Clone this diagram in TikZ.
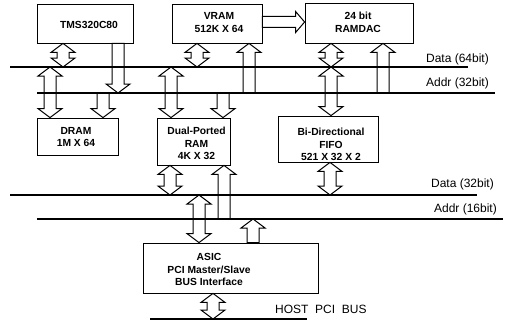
\documentclass[tikz,border=0pt]{standalone}
\usepackage{fontspec}
\setmainfont{Liberation Sans}
\usetikzlibrary{calc}

\begin{document}
\begin{tikzpicture}[x=1pt, y=-1pt,
    box/.style={draw, line width=0.8pt, inner sep=0pt},
    boxtext/.style={align=center, inner sep=0pt, font=\bfseries\fontsize{10.3}{12.6}\selectfont},
    buslabel/.style={anchor=base east, inner sep=0pt, font=\fontsize{12}{14}\selectfont},
    bus/.style={line width=2.8pt},
    % hollow block arrow, heads at both ends (vertical)
    dblarr/.style={line width=1pt, to path={
        let \p1=(\tikztostart), \p2=(\tikztotarget), \n1={sign(\y2-\y1)} in
        -- ({\x1+12pt},{\y1+9pt*\n1}) -- ({\x1+6pt},{\y1+9pt*\n1})
        -- ({\x1+6pt},{\y2-9pt*\n1}) -- ({\x1+12pt},{\y2-9pt*\n1})
        -- (\x1,\y2)
        -- ({\x1-12pt},{\y2-9pt*\n1}) -- ({\x1-6pt},{\y2-9pt*\n1})
        -- ({\x1-6pt},{\y1+9pt*\n1}) -- ({\x1-12pt},{\y1+9pt*\n1})
        -- cycle}},
    % hollow block arrow, head at the target only (vertical)
    sglarr/.style={line width=1pt, to path={
        let \p1=(\tikztostart), \p2=(\tikztotarget), \n1={sign(\y2-\y1)} in
        -- ({\x1+6pt},\y1)
        -- ({\x1+6pt},{\y2-9pt*\n1}) -- ({\x1+12pt},{\y2-9pt*\n1})
        -- (\x1,\y2)
        -- ({\x1-12pt},{\y2-9pt*\n1}) -- ({\x1-6pt},{\y2-9pt*\n1})
        -- ({\x1-6pt},\y1)
        -- cycle}},
    % same, horizontal
    sglarrh/.style={line width=1pt, to path={
        let \p1=(\tikztostart), \p2=(\tikztotarget), \n1={sign(\x2-\x1)} in
        -- (\x1,{\y1+5.5pt})
        -- ({\x2-9pt*\n1},{\y1+5.5pt}) -- ({\x2-9pt*\n1},{\y1+10.5pt})
        -- (\x2,\y1)
        -- ({\x2-9pt*\n1},{\y1-10.5pt}) -- ({\x2-9pt*\n1},{\y1-5.5pt})
        -- (\x1,{\y1-5.5pt})
        -- cycle}}]
    \useasboundingbox (0,0) rectangle (510,321);

    % Boxes
    \node[box, minimum width=96pt, minimum height=39pt] (tms) at (85,23.5) {};
    \node[boxtext] (tmstxt) at (89,25) {TMS320C80};
    \node[box, minimum width=90pt, minimum height=39pt] (vram) at (217,23.5) {};
    \node[boxtext] (vramtxt) at (219,22.5) {VRAM\\512K X 64};
    \node[box, minimum width=108pt, minimum height=40pt] (dac) at (359,23) {};
    \node[boxtext] (dactxt) at (358,22.5) {24 bit\\RAMDAC};
    \node[box, minimum width=81pt, minimum height=37pt] (dram) at (77.5,136.5) {};
    \node[boxtext] (dramtxt) at (76,137) {DRAM\\1M X 64};
    \node[box, minimum width=73pt, minimum height=47pt] (dpram) at (193.5,141.5) {};
    \node[boxtext] (dpramtxt) at (196.5,143.5) {Dual-Ported\\RAM\\4K X 32};
    \node[box, minimum width=100pt, minimum height=46pt] (fifo) at (328,139) {};
    \node[boxtext] (fifotxt) at (331,144.5) {Bi-Directional\\FIFO\\521 X 32 X 2};
    \node[box, minimum width=175pt, minimum height=50pt] (asic) at (230.5,268) {};
    \node[boxtext] (asictxt) at (209,269.5) {ASIC\\PCI Master/Slave\\BUS Interface};

    % Buses
    \coordinate (d64w) at (10,67);   \coordinate (d64e) at (468,67);
    \coordinate (a32w) at (37,93);   \coordinate (a32e) at (495,93);
    \coordinate (d32w) at (10,195);  \coordinate (d32e) at (477,195);
    \coordinate (a16w) at (37,219);  \coordinate (a16e) at (503,219);
    \coordinate (pciw) at (150,319); \coordinate (pcie) at (307,319);
    \draw[bus] (d64w) -- (d64e);
    \draw[bus] (a32w) -- (a32e);
    \draw[bus] (d32w) -- (d32e);
    \draw[bus] (a16w) -- (a16e);
    \draw[bus] (pciw) -- (pcie);
    \node[buslabel] (d64lbl) at (489,63) {Data (64bit)};
    \node[buslabel] (a32lbl) at (489,86) {Addr (32bit)};
    \node[buslabel] (d32lbl) at (494,187.5) {Data (32bit)};
    \node[buslabel] (a16lbl) at (497,212) {Addr (16bit)};
    \node[anchor=base west, inner sep=0pt, font=\fontsize{12}{14}\selectfont] (pcilbl) at (275,313) {HOST\ \ PCI\ \ BUS};

    % Upper bus arrows
    \draw[dblarr] (63,0 |- tms.south) to (63,0 |- d64w);
    \draw[sglarr] (118,0 |- tms.south) to (118,0 |- a32w);
    \draw[dblarr] (50,0 |- d64w) to (50,0 |- dram.north);
    \draw[sglarr] (103,0 |- a32w) to (103,0 |- dram.north);
    \draw[dblarr] (197,0 |- vram.south) to (197,0 |- d64w);
    \draw[sglarr] (249,0 |- a32w) to (249,0 |- vram.south);
    \draw[dblarr] (171,0 |- d64w) to (171,0 |- dpram.north);
    \draw[sglarr] (223,0 |- a32w) to (223,0 |- dpram.north);
    \draw[sglarrh] (vram.east |- 0,22) to (dac.west |- 0,22);
    \draw[dblarr] (331,0 |- dac.south) to (331,0 |- d64w);
    \draw[sglarr] (383,0 |- a32w) to (383,0 |- dac.south);
    \draw[dblarr] (331,0 |- d64w) to (331,0 |- fifo.north);

    % Lower bus arrows
    \draw[dblarr] (170,0 |- dpram.south) to (170,0 |- d32w);
    \draw[sglarr] (224,0 |- a16w) to (224,0 |- dpram.south);
    \draw[dblarr] (330,0 |- fifo.south) to (330,0 |- d32w);
    \draw[dblarr] (199,0 |- d32w) to (199,0 |- asic.north);
    \draw[sglarr] (253,0 |- asic.north) to (253,0 |- a16w);
    \draw[dblarr] (213,0 |- asic.south) to (213,0 |- pciw);
\end{tikzpicture}
\end{document}
